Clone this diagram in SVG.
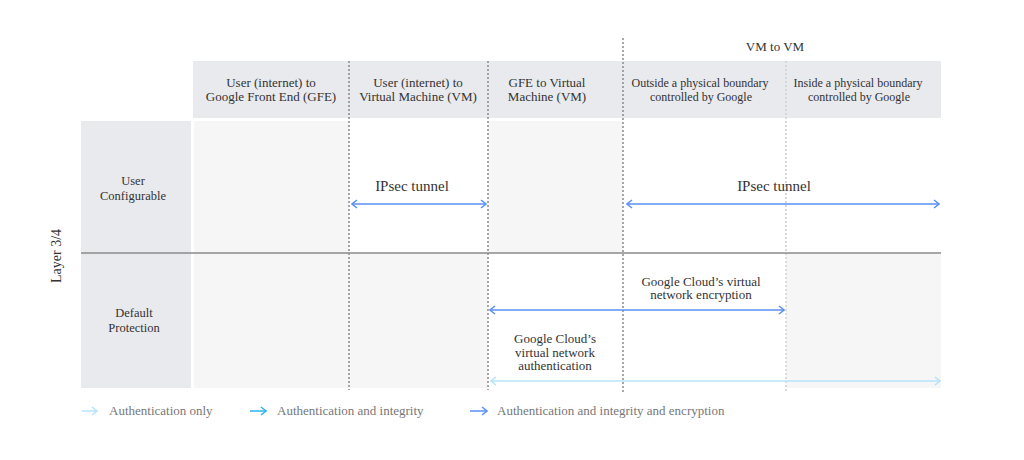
<svg xmlns="http://www.w3.org/2000/svg" width="1024" height="460" viewBox="0 0 1024 460">
<style>
.t{font-family:"Liberation Serif","Times New Roman",serif;fill:#333;text-anchor:middle}
.h{font-size:13px}
.hs{font-size:12px}
.r{font-size:12.5px}
.lg{font-family:"Liberation Serif","Times New Roman",serif;fill:#777;font-size:13px}
.dd{stroke:#8a8a8a;stroke-width:1.5;stroke-dasharray:2 2;fill:none}
.dl{stroke:#cfcfcf;stroke-width:1.5;stroke-dasharray:2 2;fill:none}
.enc{stroke:#5b8ff5;stroke-width:1.5;fill:none}
.auth{stroke:#b6e3fb;stroke-width:1.5;fill:none}
.integ{stroke:#2fb4f2;stroke-width:1.5;fill:none}
</style>
<defs>
<marker id="mEnc" viewBox="0 0 10 10" refX="9" refY="5" markerWidth="10" markerHeight="10" markerUnits="userSpaceOnUse" orient="auto-start-reverse"><path d="M4,1 L9,5 L4,9" fill="none" stroke="#5b8ff5" stroke-width="1.5"/></marker>
<marker id="mAuth" viewBox="0 0 10 10" refX="9" refY="5" markerWidth="10" markerHeight="10" markerUnits="userSpaceOnUse" orient="auto-start-reverse"><path d="M4,1 L9,5 L4,9" fill="none" stroke="#b6e3fb" stroke-width="1.5"/></marker>
<marker id="mInteg" viewBox="0 0 10 10" refX="9" refY="5" markerWidth="10" markerHeight="10" markerUnits="userSpaceOnUse" orient="auto-start-reverse"><path d="M4,1 L9,5 L4,9" fill="none" stroke="#2fb4f2" stroke-width="1.5"/></marker>
</defs>
<rect width="1024" height="460" fill="#fff"/>
<g id="background">
<rect x="193" y="61" width="748" height="57" fill="#e8eaed"/>
<rect x="81" y="121" width="110" height="267" fill="#e8eaed"/>
<rect x="194" y="121" width="747" height="267" fill="#f6f6f6"/>
<rect x="349" y="121" width="139" height="132" fill="#fff"/>
<rect x="623" y="121" width="318" height="132" fill="#fff"/>
<rect x="488" y="253" width="298" height="135" fill="#fff"/>
</g>
<g id="grid">
<line class="dd" x1="349" y1="61" x2="349" y2="390"/>
<line class="dd" x1="488" y1="61" x2="488" y2="390"/>
<line class="dd" x1="623" y1="38" x2="623" y2="392"/>
<line class="dl" x1="786" y1="61" x2="786" y2="392"/>
<line x1="81" y1="253" x2="941" y2="253" stroke="#8a8a8a" stroke-width="1.5"/>
</g>
<g id="layer-label"><text class="t" font-size="14" transform="translate(61,256) rotate(-90)">Layer 3/4</text></g>
<g id="vm-to-vm"><text class="t h" x="775" y="51">VM to VM</text></g>
<g id="col-user-gfe"><text class="t h" x="271" y="87">User (internet) to</text><text class="t h" x="271" y="101">Google Front End (GFE)</text></g>
<g id="col-user-vm"><text class="t h" x="418" y="87">User (internet) to</text><text class="t h" x="418" y="101">Virtual Machine (VM)</text></g>
<g id="col-gfe-vm"><text class="t h" x="547" y="87">GFE to Virtual</text><text class="t h" x="547" y="101">Machine (VM)</text></g>
<g id="col-outside"><text class="t hs" x="700" y="87">Outside a physical boundary</text><text class="t hs" x="701" y="101">controlled by Google</text></g>
<g id="col-inside"><text class="t hs" x="858" y="87">Inside a physical boundary</text><text class="t hs" x="859" y="101">controlled by Google</text></g>
<g id="row-user"><text class="t r" x="133" y="185">User</text><text class="t r" x="133" y="200">Configurable</text></g>
<g id="row-default"><text class="t r" x="134" y="317">Default</text><text class="t r" x="134" y="332">Protection</text></g>
<g id="label-ipsec1"><text class="t" font-size="15" x="412" y="191">IPsec tunnel</text></g>
<g id="label-ipsec2"><text class="t" font-size="15" x="774" y="191">IPsec tunnel</text></g>
<g id="label-enc"><text class="t h" x="701" y="286">Google Cloud’s virtual</text><text class="t h" x="701" y="299">network encryption</text></g>
<g id="label-auth"><text class="t h" x="555" y="343">Google Cloud’s</text><text class="t h" x="555" y="357">virtual network</text><text class="t h" x="555" y="370">authentication</text></g>
<g id="connectors">
<line class="enc" x1="352" y1="204" x2="486" y2="204" marker-start="url(#mEnc)" marker-end="url(#mEnc)"/>
<line class="enc" x1="627" y1="204" x2="939" y2="204" marker-start="url(#mEnc)" marker-end="url(#mEnc)"/>
<line class="enc" x1="490" y1="310" x2="784" y2="310" marker-start="url(#mEnc)" marker-end="url(#mEnc)"/>
<line class="auth" x1="491" y1="381" x2="940" y2="381" marker-start="url(#mAuth)" marker-end="url(#mAuth)"/>
</g>
<g id="legend">
<line class="auth" x1="82" y1="411" x2="97" y2="411" marker-end="url(#mAuth)"/>
<text class="lg" x="109" y="415">Authentication only</text>
<line class="integ" x1="250" y1="411" x2="266" y2="411" marker-end="url(#mInteg)"/>
<text class="lg" x="277" y="415">Authentication and integrity</text>
<line class="enc" x1="470" y1="411" x2="487" y2="411" marker-end="url(#mEnc)"/>
<text class="lg" x="497" y="415">Authentication and integrity and encryption</text>
</g>
</svg>
